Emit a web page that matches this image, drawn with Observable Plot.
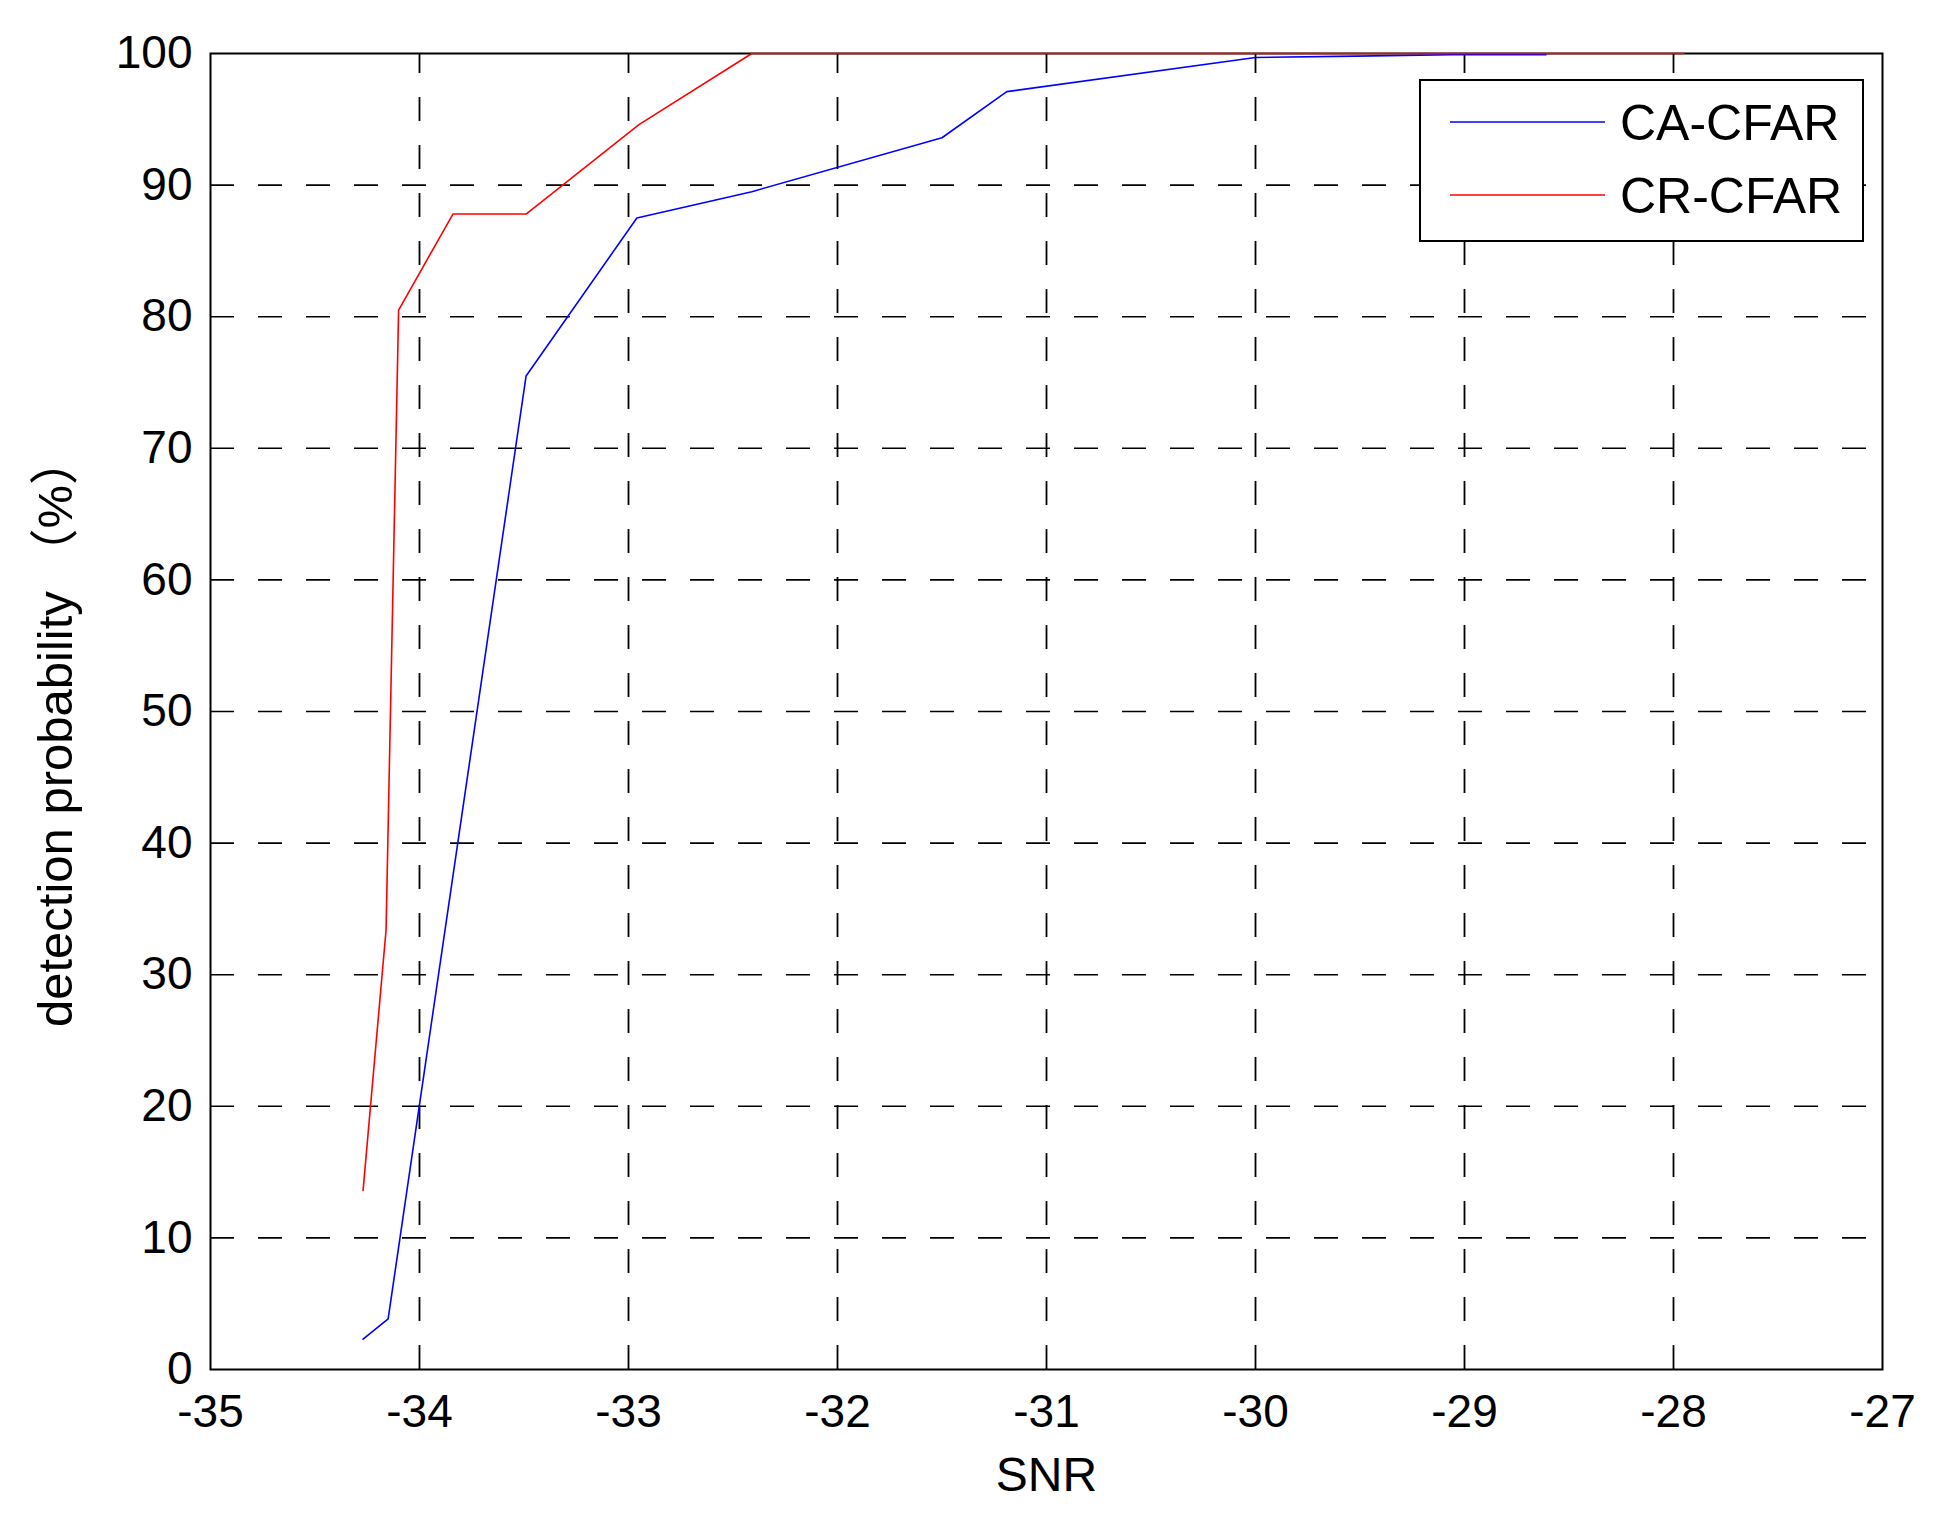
<!DOCTYPE html>
<html><head><meta charset="utf-8">
<script src="https://cdn.jsdelivr.net/npm/d3@7"></script>
<script src="https://cdn.jsdelivr.net/npm/@observablehq/plot@0.6"></script>
<style>html,body{margin:0;padding:0;background:#fff;}</style>
</head><body><div id="chart"></div>
<script>
// ---- data ----
const xTicks = [-35, -34, -33, -32, -31, -30, -29, -28, -27];
const yTicks = [0, 10, 20, 30, 40, 50, 60, 70, 80, 90, 100];
const xGrid = [-34, -33, -32, -31, -30, -29, -28];
const yGrid = [10, 20, 30, 40, 50, 60, 70, 80, 90];

const caSNR = [-34.27, -34.15, -33.49, -32.96, -32.41, -31.50, -31.19, -30.00, -29.52, -29.06, -28.61];
const caPd  = [2.3, 3.85, 75.5, 87.5, 89.5, 93.6, 97.1, 99.7, 99.8, 99.9, 99.9];
const crSNR = [-34.27, -34.16, -34.10, -33.84, -33.49, -32.95, -32.41, -27.95];
const crPd  = [13.6, 33.4, 80.5, 87.8, 87.8, 94.6, 100, 100];

const seriesNames = ["CA-CFAR", "CR-CFAR"];
const seriesColors = ["#0000ff", "#ff0000"];

const ca = caSNR.map((s, i) => ({snr: s, pd: caPd[i]}));
const cr = crSNR.map((s, i) => ({snr: s, pd: crPd[i]}));

const font = "'Liberation Sans', Arial, 'Noto Sans CJK SC', sans-serif";

const plot = Plot.plot({
  width: 1934,
  height: 1531,
  marginLeft: 210, marginRight: 52, marginTop: 53, marginBottom: 162,
  style: {fontFamily: font, fontSize: "46px", background: "#fff", color: "#000"},
  x: {domain: [-35, -27], ticks: xTicks, tickFormat: d => String(d), label: null, tickSize: 0, tickPadding: 25},
  y: {domain: [0, 100], ticks: yTicks, tickFormat: d => String(d), label: null, tickSize: 0, tickPadding: 18},
  marks: [
    Plot.ruleY(yGrid, {x1: -35, x2: -27, stroke: "#000", strokeWidth: 1.6, strokeDasharray: "24,24"}),
    Plot.ruleX(xGrid, {y1: 0, y2: 100, stroke: "#000", strokeWidth: 1.8, strokeDasharray: "24,24"}),
    Plot.frame({stroke: "#000", strokeWidth: 2}),
    Plot.line(ca, {x: "snr", y: "pd", stroke: seriesColors[0], strokeWidth: 1.6}),
    Plot.line(cr, {x: "snr", y: "pd", stroke: seriesColors[1], strokeWidth: 1.6}),
    Plot.text(["SNR"], {frameAnchor: "bottom", dy: 106, textAnchor: "middle", lineAnchor: "middle", fontSize: 48, fill: "#000"}),
    Plot.text(["detection probability （%）"], {frameAnchor: "left", dx: -154, dy: 20, rotate: -90, textAnchor: "middle", lineAnchor: "middle", fontSize: 49, fill: "#000"})
  ]
});

// legend inside the plot (top-right)
const svg = d3.select(plot);
const lg = svg.append("g").attr("font-family", font).attr("font-size", 50).attr("text-anchor", "start");
lg.append("rect").attr("x", 1420).attr("y", 80).attr("width", 443).attr("height", 161)
  .attr("fill", "#fff").attr("stroke", "#000").attr("stroke-width", 2);
seriesNames.forEach((name, i) => {
  const cy = 122 + i * 73;
  lg.append("line").attr("x1", 1450).attr("x2", 1605).attr("y1", cy).attr("y2", cy)
    .attr("stroke", seriesColors[i]).attr("stroke-width", 1.6);
  lg.append("text").attr("x", 1620).attr("y", cy).attr("dy", "0.35em")
    .attr("text-anchor", "start").attr("fill", "#000").text(name);
});

document.getElementById("chart").appendChild(plot);
</script>
</body></html>
